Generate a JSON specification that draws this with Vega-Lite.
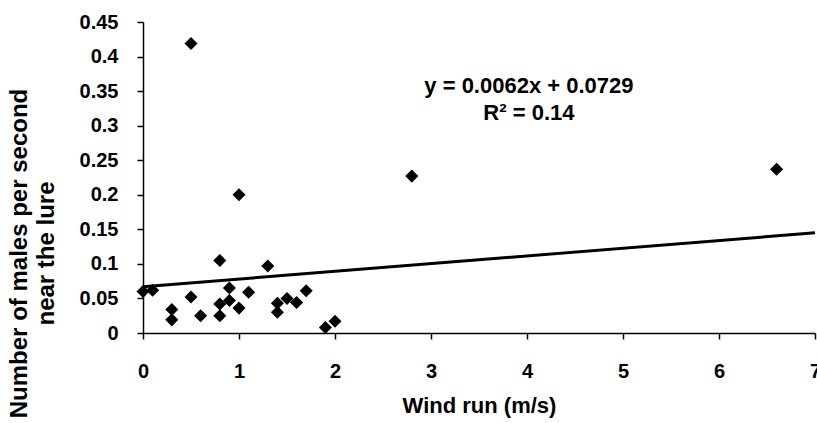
{
  "$schema": "https://vega.github.io/schema/vega-lite/v6.json",
  "width": 672,
  "height": 311,
  "autosize": "none",
  "padding": {"left": 143, "top": 22, "right": 2, "bottom": 90},
  "background": "white",
  "config": {
    "view": {"stroke": null},
    "font": "Liberation Sans",
    "axis": {
      "grid": false,
      "domainColor": "black",
      "tickColor": "black",
      "labelColor": "black",
      "titleColor": "black",
      "labelFont": "Liberation Sans",
      "titleFont": "Liberation Sans",
      "labelFontWeight": "bold",
      "titleFontWeight": "bold",
      "labelFontSize": 20,
      "titleFontSize": 22,
      "labelOverlap": false,
      "domainWidth": 1.5,
      "tickWidth": 1.5
    }
  },
  "datasets": {
    "points": [
      {"wind": 0.0, "males": 0.060},
      {"wind": 0.1, "males": 0.062},
      {"wind": 0.3, "males": 0.034},
      {"wind": 0.3, "males": 0.019},
      {"wind": 0.5, "males": 0.052},
      {"wind": 0.5, "males": 0.419},
      {"wind": 0.6, "males": 0.025},
      {"wind": 0.8, "males": 0.105},
      {"wind": 0.8, "males": 0.042},
      {"wind": 0.8, "males": 0.025},
      {"wind": 0.9, "males": 0.065},
      {"wind": 0.9, "males": 0.047},
      {"wind": 1.0, "males": 0.036},
      {"wind": 1.0, "males": 0.200},
      {"wind": 1.1, "males": 0.059},
      {"wind": 1.3, "males": 0.097},
      {"wind": 1.4, "males": 0.043},
      {"wind": 1.4, "males": 0.030},
      {"wind": 1.5, "males": 0.050},
      {"wind": 1.6, "males": 0.044},
      {"wind": 1.7, "males": 0.061},
      {"wind": 1.9, "males": 0.008},
      {"wind": 2.0, "males": 0.017},
      {"wind": 2.8, "males": 0.227},
      {"wind": 6.6, "males": 0.237}
    ],
    "trend": [
      {"wind": 0, "males": 0.067},
      {"wind": 7, "males": 0.145}
    ],
    "labels": [
      {"wind": 4.02, "males": 0.357, "text": "y = 0.0062x + 0.0729"},
      {"wind": 4.02, "males": 0.319, "text": "R² = 0.14"}
    ]
  },
  "encoding": {
    "x": {
      "field": "wind", "type": "quantitative",
      "scale": {"domain": [0, 7], "nice": false},
      "axis": {
        "title": "Wind run (m/s)",
        "values": [0, 1, 2, 3, 4, 5, 6, 7],
        "format": "d",
        "tickSize": 6,
        "labelPadding": 22,
        "titlePadding": 14,
        "labelOverlap": false,
        "labelFlush": false
      }
    },
    "y": {
      "field": "males", "type": "quantitative",
      "scale": {"domain": [0, 0.45], "nice": false},
      "axis": {
        "title": ["Number of males per second", "near the lure"],
        "values": [0, 0.05, 0.1, 0.15, 0.2, 0.25, 0.3, 0.35, 0.4, 0.45],
        "format": ".2~f",
        "tickSize": 6,
        "labelPadding": 19,
        "titleFontSize": 24,
        "titleLineHeight": 27,
        "titleX": -112,
        "titleY": 231,
        "labelOverlap": false,
        "labelBound": false,
        "labelFlush": false
      }
    }
  },
  "layer": [
    {
      "data": {"name": "trend"},
      "mark": {"type": "line", "color": "black", "strokeWidth": 3}
    },
    {
      "data": {"name": "points"},
      "mark": {"type": "point", "shape": "diamond", "filled": true, "color": "black", "opacity": 1, "size": 170}
    },
    {
      "data": {"name": "labels"},
      "mark": {"type": "text", "font": "Liberation Sans", "fontWeight": "bold", "fontSize": 22, "color": "black", "align": "center", "baseline": "middle"},
      "encoding": {
        "text": {"field": "text"}
      }
    }
  ]
}
